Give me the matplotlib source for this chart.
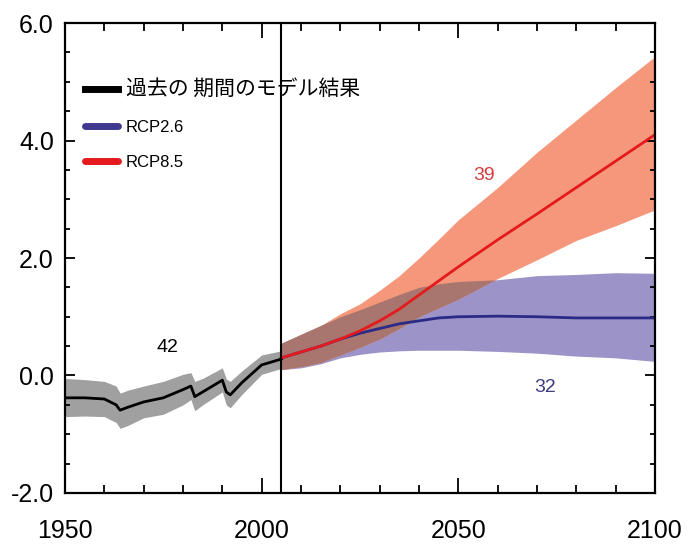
import matplotlib
matplotlib.use('Agg')
import matplotlib.pyplot as plt
import numpy as np
from matplotlib import font_manager
from matplotlib.lines import Line2D
from matplotlib.ticker import MultipleLocator

# narrow font for numbers if available
try:
    font_manager.findfont('Liberation Sans Narrow', fallback_to_default=False)
    NUM_FONT = 'Liberation Sans Narrow'
    NUM_SIZE = 20
except Exception:
    NUM_FONT = 'Liberation Sans'
    NUM_SIZE = 18
JP_FONT = ['Noto Sans CJK JP', 'DejaVu Sans']

# historical model results (1950-2005)
hist_years = [1950, 1955, 1960, 1963, 1964, 1966, 1970, 1975, 1980, 1982,
              1983, 1985, 1990, 1991, 1992, 1995, 2000, 2005]
hist_mean = [-0.38, -0.38, -0.40, -0.50, -0.59, -0.54, -0.45, -0.38, -0.24, -0.18,
             -0.36, -0.28, -0.08, -0.28, -0.33, -0.12, 0.18, 0.28]
hist_hi = [-0.05, -0.07, -0.10, -0.18, -0.30, -0.25, -0.18, -0.10, 0.02, 0.05,
           -0.10, -0.05, 0.13, -0.06, -0.10, 0.08, 0.35, 0.42]
hist_lo = [-0.70, -0.69, -0.70, -0.80, -0.90, -0.85, -0.72, -0.66, -0.50, -0.41,
           -0.60, -0.50, -0.28, -0.50, -0.55, -0.32, 0.02, 0.12]

# projections (2005-2100)
proj_years = [2005, 2010, 2015, 2020, 2025, 2030, 2035, 2040, 2045, 2050,
              2060, 2070, 2080, 2090, 2100]
rcp26_mean = [0.30, 0.40, 0.50, 0.62, 0.72, 0.80, 0.88, 0.93, 0.98, 1.00,
              1.01, 1.00, 0.98, 0.98, 0.98]
rcp26_hi = [0.55, 0.70, 0.85, 1.00, 1.12, 1.25, 1.38, 1.50, 1.56, 1.60,
            1.63, 1.70, 1.72, 1.75, 1.74]
rcp26_lo = [0.10, 0.13, 0.20, 0.30, 0.36, 0.40, 0.42, 0.43, 0.43, 0.43,
            0.41, 0.38, 0.33, 0.30, 0.24]
rcp85_mean = [0.30, 0.40, 0.50, 0.62, 0.76, 0.93, 1.13, 1.37, 1.61, 1.85,
              2.31, 2.75, 3.20, 3.65, 4.10]
rcp85_hi = [0.55, 0.70, 0.85, 1.05, 1.22, 1.45, 1.70, 2.00, 2.32, 2.65,
            3.20, 3.80, 4.35, 4.90, 5.43]
rcp85_lo = [0.10, 0.15, 0.22, 0.35, 0.48, 0.62, 0.80, 1.00, 1.15, 1.30,
            1.65, 1.97, 2.30, 2.55, 2.82]

legend_labels = ['過去の 期間のモデル結果', 'RCP2.6', 'RCP8.5']
counts = [('42', 1976, 0.48), ('39', 2056.5, 3.40), ('32', 2072, -0.20)]

C_GRAY = '#a0a0a0'
C_ORANGE = '#f4977a'
C_LAV = '#9c94c8'
C_BROWN = '#a8766e'
C_RED = '#e41a1c'
C_BLUE = '#2b2a86'

fig = plt.figure(figsize=(6.96, 5.52), dpi=100)
ax = fig.add_axes([0.0934, 0.1069, 0.8477, 0.8514])

ax.fill_between(hist_years, hist_lo, hist_hi, color=C_GRAY, lw=0)
ax.plot(hist_years, hist_mean, color='black', lw=2)

ax.fill_between(proj_years, rcp26_lo, rcp26_hi, color=C_LAV, lw=0)
ax.fill_between(proj_years, rcp85_lo, rcp85_hi, color=C_ORANGE, lw=0)
ov_lo = np.maximum(rcp26_lo, rcp85_lo)
ov_hi = np.minimum(rcp26_hi, rcp85_hi)
ax.fill_between(proj_years, ov_lo, ov_hi, where=ov_hi > ov_lo,
                color=C_BROWN, lw=0, interpolate=True)
ax.plot(proj_years, rcp26_mean, color=C_BLUE, lw=2)
ax.plot(proj_years, rcp85_mean, color=C_RED, lw=2)

ax.axvline(2005, color='black', lw=1.5)

ax.set_xlim(1950, 2100)
ax.set_ylim(-2, 6)
ax.xaxis.set_major_locator(MultipleLocator(50))
ax.xaxis.set_minor_locator(MultipleLocator(10))
ax.yaxis.set_major_locator(MultipleLocator(2))
ax.yaxis.set_minor_locator(MultipleLocator(0.5))
ax.yaxis.set_major_formatter(plt.FuncFormatter(lambda v, p: f'{v:.1f}'))

ax.tick_params(axis='both', which='both', direction='in', top=True, right=True,
               width=1.3, color='black')
ax.tick_params(axis='x', which='major', length=11, pad=19)
ax.tick_params(axis='x', which='minor', length=5.5)
ax.tick_params(axis='y', which='major', length=7, pad=8)
ax.tick_params(axis='y', which='minor', length=3.5)
for lab in ax.get_xticklabels() + ax.get_yticklabels():
    lab.set_fontfamily(NUM_FONT)
    lab.set_fontsize(NUM_SIZE)
for sp in ax.spines.values():
    sp.set_linewidth(1.6)

for txt, x, y in counts:
    col = {'42': 'black', '39': '#d23c3c', '32': '#3c3a80'}[txt]
    ax.text(x, y, txt, color=col, fontsize=14, family=NUM_FONT,
            ha='center', va='center')

handles = [Line2D([], [], color='black', lw=5),
           Line2D([], [], color='#3f3a90', lw=5, solid_capstyle='round'),
           Line2D([], [], color=C_RED, lw=5, solid_capstyle='round')]
leg = ax.legend(handles, legend_labels, loc='upper left', frameon=False,
                bbox_to_anchor=(0.008, 0.915), handlelength=2.0,
                handletextpad=0.45, labelspacing=1.2,
                prop={'family': NUM_FONT, 'size': 12})
texts = leg.get_texts()
texts[0].set_fontfamily(JP_FONT)
texts[0].set_fontsize(15)

fig.savefig('out.png', dpi=100, facecolor='white')
